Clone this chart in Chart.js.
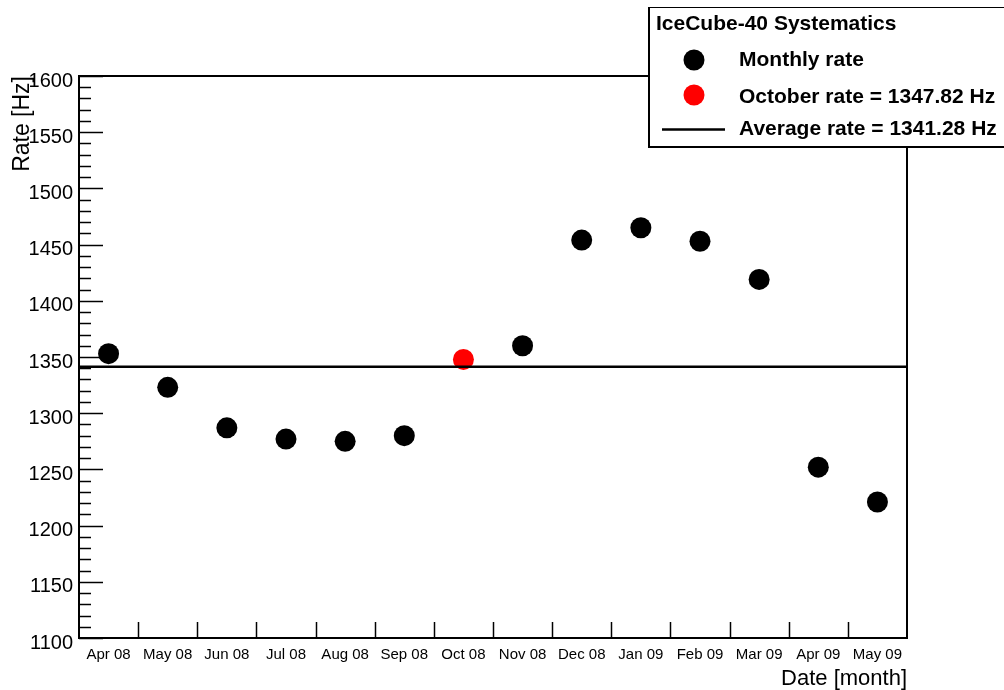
<!DOCTYPE html>
<html>
<head>
<meta charset="utf-8">
<title>IceCube-40 Systematics</title>
<script src="https://cdn.jsdelivr.net/npm/chart.js@4.4.1/dist/chart.umd.min.js"></script>
<style>
  html, body { margin: 0; padding: 0; background: #fff; }
  #wrap { width: 1004px; height: 690px; position: relative; }
</style>
</head>
<body>
<div id="wrap"><canvas id="c"></canvas></div>
<script>
// Monthly trigger rates of IceCube-40 [Hz]
const months = ['Apr 08', 'May 08', 'Jun 08', 'Jul 08', 'Aug 08', 'Sep 08', 'Oct 08',
                'Nov 08', 'Dec 08', 'Jan 09', 'Feb 09', 'Mar 09', 'Apr 09', 'May 09'];
const monthlyRate = [1353, 1323, 1287, 1277, 1275, 1280, null,
                     1360, 1454, 1465, 1453, 1419, 1252, 1221];
const octoberRate = [null, null, null, null, null, null, 1347.82,
                     null, null, null, null, null, null, null];
const averageRate = 1341.28;
const yMin = 1100, yMax = 1600, yStep = 50, yMinorStep = 10;

const FONT = '"Liberation Sans", Arial, Helvetica, sans-serif';

// Frame, inward ticks (ROOT style), the average line and the legend box
const frameAndLegend = {
  id: 'frameAndLegend',
  afterDatasetsDraw(chart) {
    const ctx = chart.ctx;
    const a = chart.chartArea;
    const xs = chart.scales.x, ys = chart.scales.y;
    ctx.save();

    // average rate line
    const yAvg = ys.getPixelForValue(averageRate);
    ctx.strokeStyle = '#000';
    ctx.lineWidth = 2.5;
    ctx.beginPath();
    ctx.moveTo(a.left, yAvg);
    ctx.lineTo(a.right, yAvg);
    ctx.stroke();

    // y ticks: major every 50, minor every 10
    ctx.lineWidth = 1.5;
    for (let v = yMin; v <= yMax + 1e-6; v += yMinorStep) {
      const py = Math.round(ys.getPixelForValue(v)) + 0.5;
      const len = (Math.round(v) % yStep === 0) ? 24 : 12;
      ctx.beginPath();
      ctx.moveTo(a.left, py);
      ctx.lineTo(a.left + len, py);
      ctx.stroke();
    }
    // x ticks at month boundaries
    for (let i = 1; i < months.length; i++) {
      const px = Math.round((xs.getPixelForValue(i - 1) + xs.getPixelForValue(i)) / 2) + 0.5;
      ctx.beginPath();
      ctx.moveTo(px, a.bottom);
      ctx.lineTo(px, a.bottom - 16);
      ctx.stroke();
    }

    // frame
    ctx.lineWidth = 2;
    ctx.strokeRect(a.left, a.top, a.right - a.left, a.bottom - a.top);

    // legend box
    const lx = 648, ly = 7, lw = 370, lh = 139;
    ctx.fillStyle = '#fff';
    ctx.fillRect(lx, ly, lw, lh);
    ctx.strokeStyle = '#000';
    ctx.lineWidth = 1;
    ctx.strokeRect(lx + 0.5, ly + 0.5, lw, lh);
    ctx.lineWidth = 2;
    ctx.beginPath();
    ctx.moveTo(lx + 1, ly);
    ctx.lineTo(lx + 1, ly + lh + 1);
    ctx.lineTo(lx + lw, ly + lh + 1);
    ctx.stroke();

    ctx.fillStyle = '#000';
    ctx.font = 'bold 21px ' + FONT;
    ctx.textBaseline = 'middle';
    ctx.textAlign = 'left';
    ctx.fillText('IceCube-40 Systematics', 656, 24);

    const mx = 694, tx = 739;
    ctx.beginPath();
    ctx.arc(mx, 60, 10.5, 0, Math.PI * 2);
    ctx.fillStyle = '#000';
    ctx.fill();
    ctx.fillText('Monthly rate', tx, 60);

    ctx.beginPath();
    ctx.arc(mx, 95, 10.5, 0, Math.PI * 2);
    ctx.fillStyle = '#ff0000';
    ctx.fill();
    ctx.fillStyle = '#000';
    ctx.fillText('October rate = ' + octoberRate[6].toFixed(2) + ' Hz', tx, 97);

    ctx.lineWidth = 2.5;
    ctx.beginPath();
    ctx.moveTo(662, 129.5);
    ctx.lineTo(725, 129.5);
    ctx.stroke();
    ctx.fillText('Average rate = ' + averageRate.toFixed(2) + ' Hz', tx, 129);

    ctx.restore();
  }
};

new Chart(document.getElementById('c'), {
  type: 'line',
  data: {
    labels: months,
    datasets: [
      {
        label: 'Monthly rate',
        data: monthlyRate,
        showLine: false,
        pointRadius: 10.5,
        pointHoverRadius: 10.5,
        pointBorderWidth: 0,
        pointBackgroundColor: '#000',
        borderColor: '#000'
      },
      {
        label: 'October rate',
        data: octoberRate,
        showLine: false,
        pointRadius: 10.5,
        pointHoverRadius: 10.5,
        pointBorderWidth: 0,
        pointBackgroundColor: '#ff0000',
        borderColor: '#ff0000'
      }
    ]
  },
  options: {
    responsive: true,
    maintainAspectRatio: false,
    animation: false,
    events: [],
    layout: { padding: { left: 0, right: 97, top: 76, bottom: 0 } },
    plugins: { legend: { display: false }, tooltip: { enabled: false } },
    scales: {
      x: {
        type: 'category',
        offset: true,
        afterFit(s) { s.height = 52; },
        grid: { display: false, drawTicks: false },
        border: { display: false },
        ticks: {
          color: '#000',
          font: { family: FONT, size: 15 },
          padding: 8,
          maxRotation: 0,
          autoSkip: false
        },
        title: {
          display: true,
          text: 'Date [month]',
          align: 'end',
          color: '#000',
          font: { family: FONT, size: 22, lineHeight: 1 },
          padding: { top: 0, bottom: 0 }
        }
      },
      y: {
        min: yMin,
        max: yMax,
        afterFit(s) { s.width = 79; },
        grid: { display: false, drawTicks: false },
        border: { display: false },
        ticks: {
          stepSize: yStep,
          color: '#000',
          font: { family: FONT, size: 20 },
          padding: 6,
          labelOffset: 5,
          callback: (v) => String(v)
        },
        title: {
          display: true,
          text: 'Rate [Hz]',
          align: 'end',
          color: '#000',
          font: { family: FONT, size: 23, lineHeight: 1 },
          padding: { top: 11, bottom: 0 }
        }
      }
    }
  },
  plugins: [frameAndLegend]
});
</script>
</body>
</html>
